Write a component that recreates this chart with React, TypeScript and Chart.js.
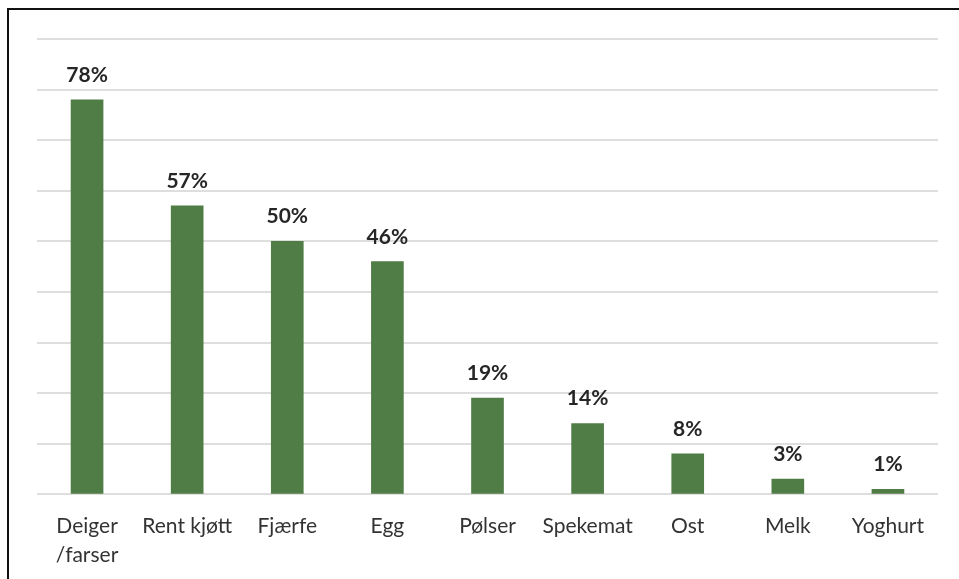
import React, { useEffect, useRef } from "react";
import { Chart, registerables } from "chart.js";

Chart.register(...registerables);

const categories: (string | string[])[] = [
  ["Deiger", "/farser"],
  "Rent kjøtt",
  "Fjærfe",
  "Egg",
  "Pølser",
  "Spekemat",
  "Ost",
  "Melk",
  "Yoghurt",
];
const shares = [78, 57, 50, 46, 19, 14, 8, 3, 1];
const axisMax = 90;
const axisStep = 10;

const FONT = "Lato, 'Noto Sans', sans-serif";

// Draws the bold percentage above every bar.
const valueLabels = {
  id: "valueLabels",
  afterDatasetsDraw(chart: any) {
    const ctx = chart.ctx;
    const meta = chart.getDatasetMeta(0);
    const data = chart.data.datasets[0].data as number[];
    ctx.save();
    ctx.font = `bold 21px ${FONT}`;
    ctx.fillStyle = "#262626";
    ctx.textAlign = "center";
    ctx.textBaseline = "alphabetic";
    meta.data.forEach((bar: any, i: number) => {
      ctx.fillText(`${data[i]}%`, bar.x, bar.y - 18);
    });
    ctx.restore();
  },
};

export default function App() {
  const canvasRef = useRef<HTMLCanvasElement | null>(null);

  useEffect(() => {
    if (!canvasRef.current) return;
    const chart = new Chart(canvasRef.current, {
      type: "bar",
      data: {
        labels: categories,
        datasets: [
          {
            data: shares,
            backgroundColor: "#507C46",
            barThickness: 32,
          },
        ],
      },
      options: {
        animation: false,
        responsive: false,
        maintainAspectRatio: false,
        layout: { padding: { left: 28, right: 21, top: 29, bottom: -8 } },
        plugins: {
          legend: { display: false },
          tooltip: { enabled: false },
        },
        scales: {
          x: {
            grid: { display: false, drawTicks: false, tickLength: 0 },
            border: { display: false },
            ticks: {
              color: "#333333",
              font: { family: FONT, size: 21, lineHeight: 1.35 },
              padding: 18,
              maxRotation: 0,
              autoSkip: false,
            },
          },
          y: {
            min: 0,
            max: axisMax,
            border: { display: false },
            grid: {
              color: "#dedede",
              lineWidth: 2,
              drawTicks: false,
              tickLength: 0,
            },
            ticks: { display: false, stepSize: axisStep },
          },
        },
      },
      plugins: [valueLabels],
    });
    return () => chart.destroy();
  }, []);

  return (
    <div
      style={{
        position: "absolute",
        left: 7,
        top: 8,
        width: 950,
        height: 569,
        borderTop: "2px solid #111",
        borderLeft: "2px solid #111",
        background: "#fff",
      }}
    >
      <canvas ref={canvasRef} width={950} height={569} style={{ display: "block" }} />
    </div>
  );
}
